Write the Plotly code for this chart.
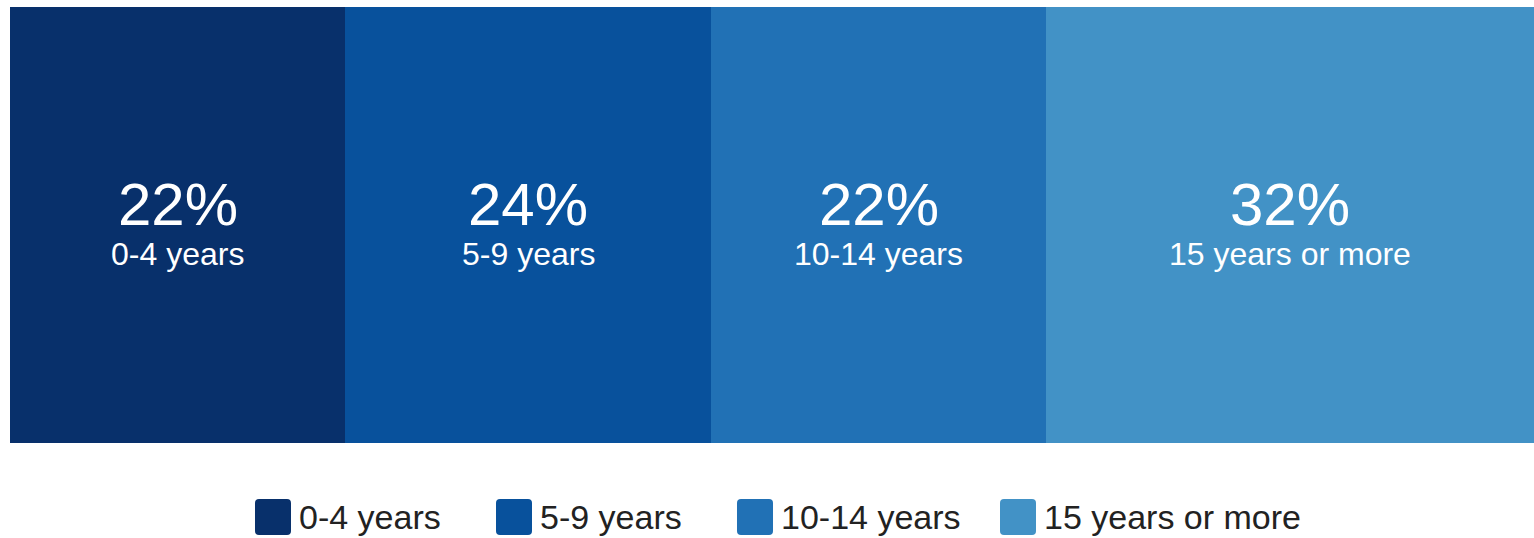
import plotly.graph_objects as go

categories = ["0-4 years", "5-9 years", "10-14 years", "15 years or more"]
shares = [22, 24, 22, 32]
colors = ["#08306b", "#08519c", "#2171b5", "#4292c6"]

W, H = 1534, 538
ml, mr, mt, mb = 10, 0, 7, 95
pw = W - ml - mr
ph = H - mt - mb

fig = go.Figure()
for cat, val, col in zip(categories, shares, colors):
    fig.add_trace(go.Bar(
        y=[0], x=[val], name=cat, orientation="h",
        marker=dict(color=col, line=dict(width=0)),
        width=1, hoverinfo="skip", showlegend=False,
    ))

annotations = []
cum = 0
for cat, val in zip(categories, shares):
    mid = cum + val / 2
    cum += val
    annotations.append(dict(x=mid, y=0, xref="x", yref="y", text=f"{val}%",
                            showarrow=False, yshift=21, borderpad=0,
                            font=dict(family="Liberation Sans", size=60, color="white")))
    annotations.append(dict(x=mid, y=0, xref="x", yref="y", text=cat,
                            showarrow=False, yshift=-29, borderpad=0,
                            font=dict(family="Liberation Sans", size=32, color="white")))

# custom legend (pixel positions converted to paper coordinates)
legend_px = [255, 496, 737, 1000]
shapes = []
def px_x(p):
    return (p - ml) / pw
def px_y(p):
    return (H - mb - p) / ph

def rounded_rect(x0, y0, x1, y1, r):
    pts = [
        ("M", x0 + r, y0), ("L", x1 - r, y0), ("Q", x1, y0, x1, y0 + r),
        ("L", x1, y1 - r), ("Q", x1, y1, x1 - r, y1), ("L", x0 + r, y1),
        ("Q", x0, y1, x0, y1 - r), ("L", x0, y0 + r), ("Q", x0, y0, x0 + r, y0),
    ]
    out = []
    for p in pts:
        cmd = p[0]
        coords = p[1:]
        s = cmd
        vals = []
        for i in range(0, len(coords), 2):
            vals.append(f"{px_x(coords[i]):.5f},{px_y(coords[i+1]):.5f}")
        out.append(cmd + " ".join(vals))
    return " ".join(out) + " Z"

for cat, col, lx in zip(categories, colors, legend_px):
    shapes.append(dict(type="path", xref="paper", yref="paper",
                       path=rounded_rect(lx, 499, lx + 36, 535, 4),
                       fillcolor=col, line=dict(width=0)))
    annotations.append(dict(x=px_x(lx + 42), y=px_y(517), xref="paper", yref="paper",
                            xanchor="left", yanchor="middle", text=cat, showarrow=False,
                            font=dict(family="Liberation Sans", size=34, color="#222222")))

fig.update_layout(
    width=W, height=H,
    margin=dict(l=ml, r=mr, t=mt, b=mb, pad=0),
    barmode="stack", bargap=0,
    plot_bgcolor="white", paper_bgcolor="white",
    xaxis=dict(range=[0, sum(shares)], visible=False, fixedrange=True),
    yaxis=dict(range=[-0.5, 0.5], visible=False, fixedrange=True),
    annotations=annotations, shapes=shapes,
    hovermode=False,
)
fig.write_html("out.html", config={"displayModeBar": False},
               post_script="document.body.style.margin='0';document.body.style.overflow='hidden';")
